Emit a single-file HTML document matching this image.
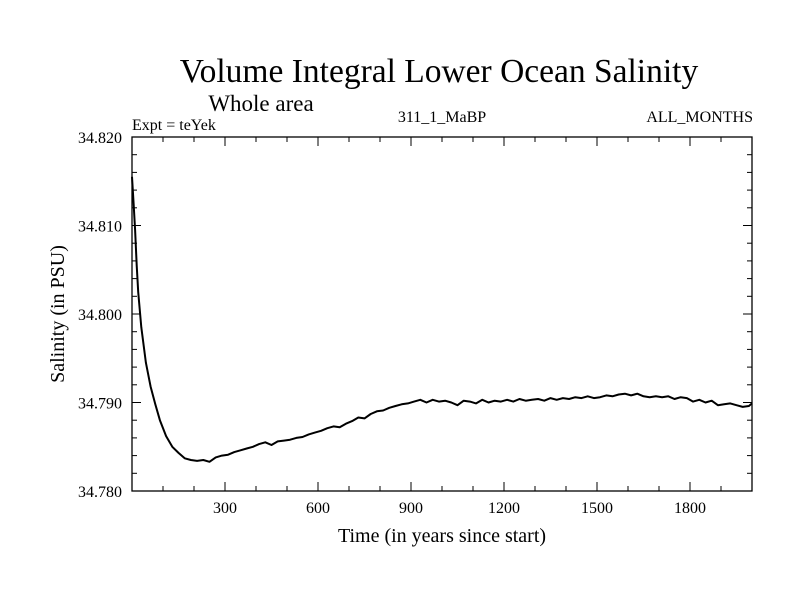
<!DOCTYPE html>
<html><head><meta charset="utf-8"><style>
html,body{margin:0;padding:0;background:#fff;}
svg{display:block;font-family:"Liberation Serif",serif;}
</style></head><body>
<svg id="chart" width="800" height="600" viewBox="0 0 800 600">
<rect width="800" height="600" fill="#fff"/>
<text x="439" y="82" font-size="33.5" text-anchor="middle">Volume Integral Lower Ocean Salinity</text>
<text x="261" y="111" font-size="23" text-anchor="middle">Whole area</text>
<text x="132" y="130" font-size="16">Expt = teYek</text>
<text x="442" y="122" font-size="16" text-anchor="middle">311_1_MaBP</text>
<text x="753" y="122" font-size="16" text-anchor="end">ALL_MONTHS</text>
<text x="442" y="542" font-size="20" text-anchor="middle">Time (in years since start)</text>
<text transform="translate(64,314) rotate(-90)" font-size="20" text-anchor="middle">Salinity (in PSU)</text>
<g id="axes"></g>
<g id="series"></g>
</svg>
<script>
const years=[0,5,10,15,20,30,45,60,75,90,110,130,150,170,190,210,230,250,270,290,310,330,350,370,390,410,430,450,470,490,510,530,550,570,590,610,630,650,670,690,710,730,750,770,790,810,830,850,870,890,910,930,950,970,990,1010,1030,1050,1070,1090,1110,1130,1150,1170,1190,1210,1230,1250,1270,1290,1310,1330,1350,1370,1390,1410,1430,1450,1470,1490,1510,1530,1550,1570,1590,1610,1630,1650,1670,1690,1710,1730,1750,1770,1790,1810,1830,1850,1870,1890,1910,1930,1950,1970,1990,2000];
const salinity=[34.8155,34.8125,34.8095,34.8055,34.8025,34.7985,34.7945,34.7918,34.7898,34.7880,34.7862,34.7850,34.7843,34.7837,34.7835,34.7834,34.7835,34.7833,34.7838,34.7840,34.7841,34.7844,34.7846,34.7848,34.7850,34.7853,34.7855,34.7852,34.7856,34.7857,34.7858,34.7860,34.7861,34.7864,34.7866,34.7868,34.7871,34.7873,34.7872,34.7876,34.7879,34.7883,34.7882,34.7887,34.7890,34.7891,34.7894,34.7896,34.7898,34.7899,34.7901,34.7903,34.7900,34.7903,34.7901,34.7902,34.7900,34.7897,34.7902,34.7901,34.7899,34.7903,34.7900,34.7902,34.7901,34.7903,34.7901,34.7904,34.7902,34.7903,34.7904,34.7902,34.7905,34.7903,34.7905,34.7904,34.7906,34.7905,34.7907,34.7905,34.7906,34.7908,34.7907,34.7909,34.7910,34.7908,34.7910,34.7907,34.7906,34.7907,34.7906,34.7907,34.7904,34.7906,34.7905,34.7901,34.7903,34.7900,34.7902,34.7897,34.7898,34.7899,34.7897,34.7895,34.7896,34.7899];
const xTicks=[300,600,900,1200,1500,1800];
const yTicks=[34.780,34.790,34.800,34.810,34.820];
const yTickLabels=["34.780","34.790","34.800","34.810","34.820"];
const L=132,R=752,T=137,B=491,X0=0,X1=2000,Y0=34.780,Y1=34.820;
const xs=v=>L+(v-X0)/(X1-X0)*(R-L);
const ys=v=>B-(v-Y0)/(Y1-Y0)*(B-T);
const NS="http://www.w3.org/2000/svg";
const axes=document.getElementById('axes');
function mk(tag,attrs,parent){const e=document.createElementNS(NS,tag);for(const k in attrs)e.setAttribute(k,attrs[k]);parent.appendChild(e);return e;}
const frame=mk('rect',{x:L,y:T,width:R-L,height:B-T,fill:'none',stroke:'#000','stroke-width':1.3},axes);


for(let v=100;v<X1;v+=100){const major=v%300===0;const len=major?9:5;
 mk('line',{x1:xs(v),x2:xs(v),y1:B,y2:B-len,stroke:'#000'},axes);
 mk('line',{x1:xs(v),x2:xs(v),y1:T,y2:T+len,stroke:'#000'},axes);}
xTicks.forEach(v=>{const t=mk('text',{x:xs(v),y:B+22,'font-size':16,'text-anchor':'middle'},axes);t.textContent=String(v);
 
 });
for(let i=0;i<=20;i++){const v=Y0+i*0.002;const major=i%5===0;const len=major?9:5;
 mk('line',{x1:L,x2:L+len,y1:ys(v),y2:ys(v),stroke:'#000'},axes);
 mk('line',{x1:R,x2:R-len,y1:ys(v),y2:ys(v),stroke:'#000'},axes);}
yTicks.forEach((v,i)=>{const t=mk('text',{x:L-10,y:ys(v)+6,'font-size':16,'text-anchor':'end'},axes);t.textContent=yTickLabels[i];
 
 });
const d=years.map((y,i)=>(i?'L':'M')+xs(y).toFixed(1)+','+ys(salinity[i]).toFixed(1)).join('');
const p=mk('path',{d:d,fill:'none',stroke:'#000','stroke-width':2,'stroke-linejoin':'round'},document.getElementById('series'));


</script>
</body></html>
